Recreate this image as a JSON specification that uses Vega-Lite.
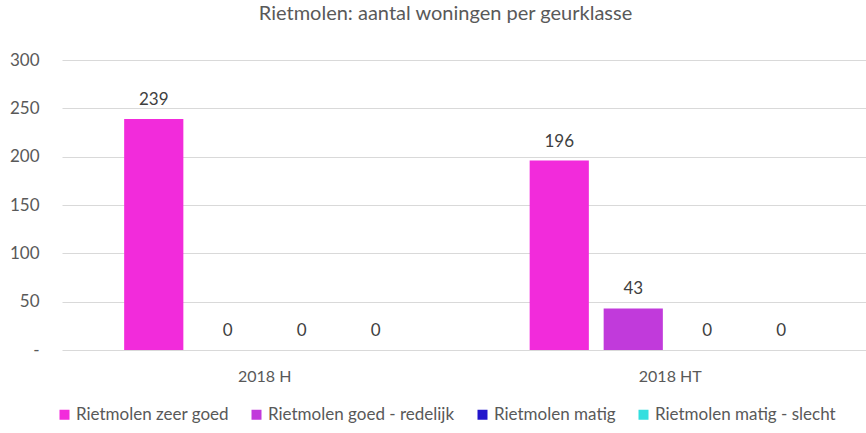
{
  "$schema": "https://vega.github.io/schema/vega-lite/v6.json",
  "autosize": "none",
  "width": 811,
  "height": 290,
  "padding": {"left": 62, "top": 60, "right": 0, "bottom": 83},
  "background": "white",
  "config": {
    "font": "Lato",
    "view": {"stroke": null},
    "axis": {"labelFont": "Lato", "labelColor": "#595959", "labelFontSize": 16}
  },
  "title": {
    "text": "Rietmolen: aantal woningen per geurklasse",
    "font": "Lato",
    "fontSize": 20,
    "fontWeight": "normal",
    "color": "#595959",
    "anchor": "middle",
    "dx": -22,
    "offset": 27
  },
  "data": {
    "values": [
      {"jaar": "2018 H", "klasse": "Rietmolen zeer goed", "aantal": 239},
      {"jaar": "2018 H", "klasse": "Rietmolen goed - redelijk", "aantal": 0},
      {"jaar": "2018 H", "klasse": "Rietmolen matig", "aantal": 0},
      {"jaar": "2018 H", "klasse": "Rietmolen matig - slecht", "aantal": 0},
      {"jaar": "2018 HT", "klasse": "Rietmolen zeer goed", "aantal": 196},
      {"jaar": "2018 HT", "klasse": "Rietmolen goed - redelijk", "aantal": 43},
      {"jaar": "2018 HT", "klasse": "Rietmolen matig", "aantal": 0},
      {"jaar": "2018 HT", "klasse": "Rietmolen matig - slecht", "aantal": 0}
    ]
  },
  "encoding": {
    "x": {
      "field": "jaar", "type": "nominal",
      "scale": {"paddingInner": 0, "paddingOuter": 0},
      "axis": {"title": null, "labelAngle": 0, "ticks": false, "domain": false, "labelPadding": 18, "labelFontSize": 16}
    },
    "xOffset": {
      "field": "klasse", "type": "nominal",
      "sort": ["Rietmolen zeer goed", "Rietmolen goed - redelijk", "Rietmolen matig", "Rietmolen matig - slecht"],
      "scale": {"paddingInner": 0.2, "paddingOuter": 0.84}
    },
    "y": {
      "field": "aantal", "type": "quantitative",
      "scale": {"domain": [0, 300], "nice": false},
      "axis": {
        "title": null, "values": [0, 50, 100, 150, 200, 250, 300],
        "labelExpr": "datum.value == 0 ? '-' : datum.label",
        "ticks": false, "domain": false, "labelPadding": 23, "labelFontSize": 17,
        "gridColor": "#d9d9d9", "gridWidth": 1
      }
    }
  },
  "layer": [
    {
      "mark": {"type": "bar"},
      "encoding": {
        "color": {
          "field": "klasse", "type": "nominal",
          "sort": ["Rietmolen zeer goed", "Rietmolen goed - redelijk", "Rietmolen matig", "Rietmolen matig - slecht"],
          "scale": {
            "domain": ["Rietmolen zeer goed", "Rietmolen goed - redelijk", "Rietmolen matig", "Rietmolen matig - slecht"],
            "range": ["#F22BDB", "#C13ADB", "#2215CC", "#33DFDF"]
          },
          "legend": {
            "title": null, "orient": "none", "direction": "horizontal",
            "legendX": -6, "legendY": 346,
            "symbolType": "square", "symbolSize": 100, "symbolStrokeWidth": 0,
            "labelFont": "Lato", "labelFontSize": 17, "labelColor": "#595959",
            "labelLimit": 400,
            "columnPadding": 19, "labelOffset": 3, "symbolOffset": 0
          }
        }
      }
    },
    {
      "mark": {"type": "text", "dy": -19, "font": "Lato", "fontSize": 17, "color": "#404040"},
      "encoding": {"text": {"field": "aantal", "type": "quantitative"}}
    }
  ]
}
